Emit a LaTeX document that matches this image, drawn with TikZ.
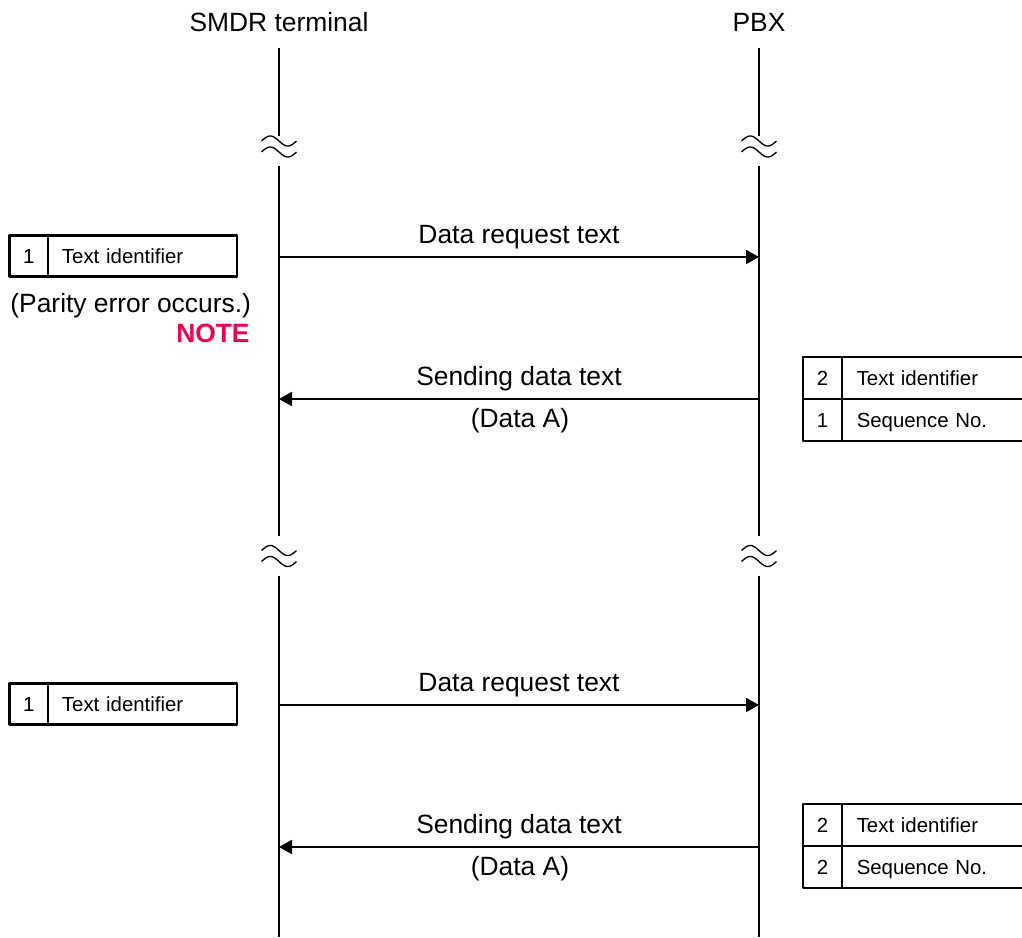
\documentclass[tikz,border=0pt]{standalone}
\usepackage{fontspec}
\setmainfont{Liberation Sans}
\usetikzlibrary{arrows.meta,positioning}
\definecolor{notered}{RGB}{240,0,80}

\tikzset{
  lifeline/.style={line width=1pt},
  wave/.style={line width=0.65pt},
  msg/.style={line width=1pt,-{Triangle[length=6.5pt,width=7pt]}},
  lbl/.style={font=\fontsize{13.2}{15}\selectfont,inner sep=0pt},
  cellnum/.style={draw,line width=1.1pt,outer sep=0pt,inner sep=0pt,minimum width=19.25pt,minimum height=20.5pt,text height=7.3pt,text depth=0pt,font=\fontsize{10.2}{12}\selectfont},
  celltxt/.style={cellnum,inner xsep=7pt,text width=80.5pt,align=left},
  cellwide/.style={cellnum,inner xsep=7.5pt,text width=100pt,align=left},
}

\begin{document}
\begin{tikzpicture}[x=5pt,y=-5pt,line join=round]
  \useasboundingbox (0,0) rectangle (102.2,93.7);
  % lifelines
  \node[lbl] (smdr) at (27.9,2.25) {SMDR terminal};
  \node[lbl] (pbx) at (75.9,2.25) {PBX};
  \coordinate (s0) at (27.9,4.8);  \coordinate (p0) at (75.9,4.8);
  \coordinate (s1) at (27.9,13.6); \coordinate (p1) at (75.9,13.6);
  \coordinate (s2) at (27.9,16.6); \coordinate (p2) at (75.9,16.6);
  \coordinate (s3) at (27.9,53.6); \coordinate (p3) at (75.9,53.6);
  \coordinate (s4) at (27.9,57.6); \coordinate (p4) at (75.9,57.6);
  \coordinate (s5) at (27.9,93.7); \coordinate (p5) at (75.9,93.7);
  \draw[lifeline] (s0)--(s1) (s2)--(s3) (s4)--(s5);
  \draw[lifeline] (p0)--(p1) (p2)--(p3) (p4)--(p5);
  % breaks
  \foreach \x in {27.9,75.9}
    \foreach \y in {14.65,55.6}
      \foreach \d in {-0.55,0.55}
        \draw[wave] plot[domain=-1.75:1.75,samples=40,smooth,variable=\t] ({\x+\t},{\y+\d+0.5*sin(\t*102.86)});

  % first exchange
  \coordinate (sa) at (27.9,25.7); \coordinate (pa) at (75.9,25.7);
  \draw[msg] (sa) -- (pa);
  \node[lbl,anchor=base] (req1) at (51.9,24.3) {Data request text};
  \node[cellnum] (n1) at (2.87,25.6) {1};
  \node[celltxt,right=0pt of n1] (t1) {Text identifier};
  \node[lbl,anchor=base west] (parity) at (1.0,31.2) {(Parity error occurs.)};
  \node[lbl,anchor=base east,font=\fontsize{13.2}{15}\selectfont\bfseries,text=notered] (note) at (25.0,34.2) {NOTE};

  \coordinate (sb) at (27.9,39.9); \coordinate (pb) at (75.9,39.9);
  \draw[msg] (pb) -- (sb);
  \node[lbl,anchor=base] (send1) at (51.9,38.5) {Sending data text};
  \node[lbl,anchor=base] (data1) at (52.0,42.7) {(Data A)};
  \node[cellnum,minimum height=21pt] (n2) at (82.25,37.8) {2};
  \node[cellwide,minimum height=21pt,right=0pt of n2] (t2) {Text identifier};
  \node[cellnum,minimum height=21pt,below=0pt of n2] (n3) {1};
  \node[cellwide,minimum height=21pt,right=0pt of n3] (t3) {Sequence No.};

  % second exchange
  \coordinate (sc) at (27.9,70.5); \coordinate (pc) at (75.9,70.5);
  \draw[msg] (sc) -- (pc);
  \node[lbl,anchor=base] (req2) at (51.9,69.1) {Data request text};
  \node[cellnum] (n4) at (2.87,70.4) {1};
  \node[celltxt,right=0pt of n4] (t4) {Text identifier};

  \coordinate (sd) at (27.9,84.7); \coordinate (pd) at (75.9,84.7);
  \draw[msg] (pd) -- (sd);
  \node[lbl,anchor=base] (send2) at (51.9,83.3) {Sending data text};
  \node[lbl,anchor=base] (data2) at (52.0,87.5) {(Data A)};
  \node[cellnum,minimum height=21pt] (n5) at (82.25,82.5) {2};
  \node[cellwide,minimum height=21pt,right=0pt of n5] (t5) {Text identifier};
  \node[cellnum,minimum height=21pt,below=0pt of n5] (n6) {2};
  \node[cellwide,minimum height=21pt,right=0pt of n6] (t6) {Sequence No.};
\end{tikzpicture}
\end{document}
